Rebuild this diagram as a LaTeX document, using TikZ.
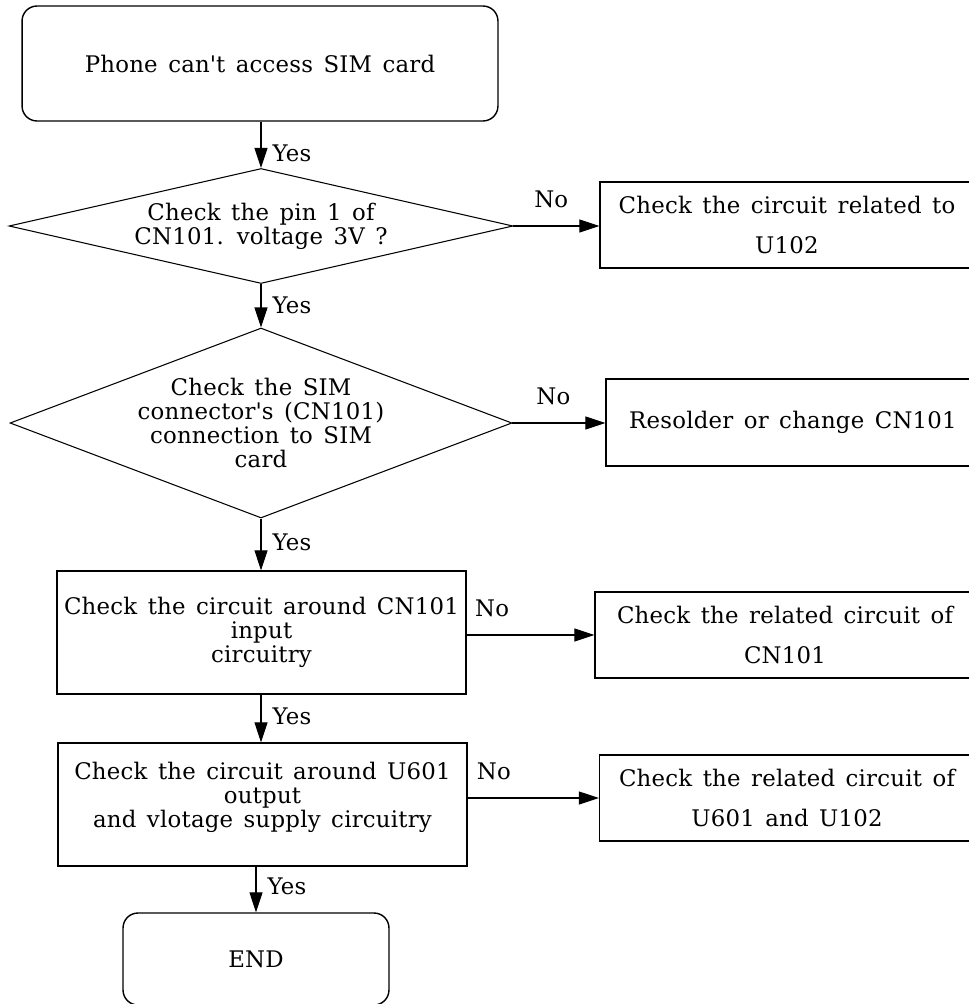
\documentclass[tikz,border=0pt]{standalone}
\usepackage{fontspec}
\setmainfont{DejaVu Serif}[WordSpace=1.4, LetterSpace=1]
\usetikzlibrary{shapes.geometric,arrows.meta}

\tikzset{
  box/.style={draw, line width=0.8pt, inner sep=0pt, align=center},
  termbox/.style={box, rounded corners=3mm},
  decbox/.style={draw, line width=0.6pt, diamond, inner sep=0pt, align=center},
  flow/.style={line width=0.6pt, -{Triangle[length=4mm,width=2.6mm]}},
  yes/.style={anchor=west, inner sep=0pt, xshift=2.2mm},
  no/.style={anchor=base, inner sep=0pt, yshift=3.8mm},
}

\begin{document}
\begin{tikzpicture}[x=0.02cm, y=-0.02cm, font=\fontsize{13}{13.6}\selectfont]

\useasboundingbox (0,0) rectangle (969,1004);

% main column
\node[termbox, minimum width=9.52cm, minimum height=2.3cm] (start) at (260,63.5) {Phone can\textquotesingle t access SIM card};

\node[decbox, aspect=4.38, minimum width=10.08cm, minimum height=2.3cm] (pin) at (261,226)
   {Check the pin 1 of\\CN101. voltage 3V ?};

\node[decbox, aspect=2.64, minimum width=10.04cm, minimum height=3.8cm] (conn) at (261,423)
   {Check the SIM\\connector\textquotesingle s (CN101)\\connection to SIM\\card};

\node[box, minimum width=8.18cm, minimum height=2.46cm] (cnin) at (261.5,632.5)
   {Check the circuit around CN101\\input\\circuitry};

\node[box, minimum width=8.18cm, minimum height=2.46cm, text depth=0.4cm] (uout) at (262.5,804.5)
   {Check the circuit around U601\\output\\ and vlotage supply circuitry};

\node[termbox, minimum width=5.32cm, minimum height=1.84cm] (end) at (256,959) {END};

% right column
\node[box, minimum width=7.48cm, minimum height=1.72cm] (fixu) at (787,225)
   {Check the circuit related to\\[9.5pt]U102};
\node[box, minimum width=7.48cm, minimum height=1.74cm] (fixcn) at (793,422.5)
   {Resolder or change CN101};
\node[box, minimum width=7.6cm, minimum height=1.72cm] (relcn) at (785,635)
   {Check the related circuit of\\[9.5pt]CN101};
\node[box, minimum width=7.5cm, minimum height=1.72cm] (relu) at (787,798)
   {Check the related circuit of\\[9.5pt]U601 and U102};

% yes
\draw[flow] (start.south -| pin.north) -- node[yes, pos=0.68] (y1) {Yes} (pin.north);
\draw[flow] (pin.south) -- node[yes, pos=0.49] (y2) {Yes} (conn.north);
\draw[flow] (conn.south) -- node[yes, pos=0.46] (y3) {Yes} (cnin.north -| conn.south);
\draw[flow] (cnin.south -| conn.south) -- node[yes, pos=0.45] (y4) {Yes} (uout.north -| conn.south);
\draw[flow] (uout.south -| end.north) -- node[yes, pos=0.43] (y5) {Yes} (end.north);

% no
\draw[flow] (pin.east) -- node[no, pos=0.44] (n1) {No} (pin.east -| fixu.west);
\draw[flow] (conn.east) -- node[no, pos=0.44] (n2) {No} (conn.east -| fixcn.west);
\draw[flow] (cnin.east |- relcn.west) -- node[no, pos=0.2] (n3) {No} (relcn.west);
\draw[flow] (uout.east |- relu.west) -- node[no, pos=0.2] (n4) {No} (relu.west);

\end{tikzpicture}
\end{document}
